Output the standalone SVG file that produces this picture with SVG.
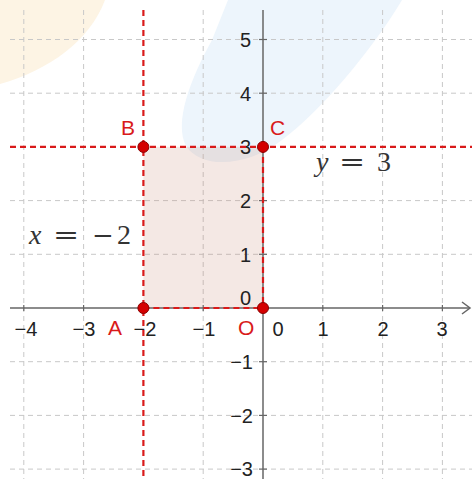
<svg xmlns="http://www.w3.org/2000/svg" width="472" height="479" viewBox="0 0 472 479">
<style>
.grid{stroke:#c8c8c8;stroke-width:1;stroke-dasharray:5 4;fill:none}
.axis{stroke:#666;stroke-width:1.5;fill:none}
.tick{stroke:#666;stroke-width:1.2}
.red{stroke:#d91a1a;stroke-width:2.2;stroke-dasharray:6 4;fill:none}
.num{font-family:"Liberation Sans",Arial,sans-serif;font-size:20px;fill:#222}
.lbl{font-family:"Liberation Sans",Arial,sans-serif;font-size:21px;fill:#d91a1a}
.math{font-family:"Liberation Serif","Times New Roman",serif;font-size:28px;fill:#333}
.op{font-family:"DejaVu Serif",serif;font-size:26px;fill:#333}
.pt{fill:#d40000;stroke:#8a0000;stroke-width:1}
</style>
<rect width="472" height="479" fill="#ffffff"/>
<path d="M0 0 L105 0 C90 40 50 70 0 84 Z" fill="#fdf4e4"/>
<path d="M228 0 L402 0 C372 50 322 110 282 140 C252 164 204 172 186 146 C174 122 190 80 212 40 Z" fill="#edf5fc"/>
<g id="grid">
<line class="grid" x1="23.8" y1="10" x2="23.8" y2="479"/>
<line class="grid" x1="83.6" y1="10" x2="83.6" y2="479"/>
<line class="grid" x1="203.2" y1="10" x2="203.2" y2="479"/>
<line class="grid" x1="322.8" y1="10" x2="322.8" y2="479"/>
<line class="grid" x1="382.6" y1="10" x2="382.6" y2="479"/>
<line class="grid" x1="442.4" y1="10" x2="442.4" y2="479"/>
<line class="grid" x1="10" y1="39.5" x2="472" y2="39.5"/>
<line class="grid" x1="10" y1="93.2" x2="472" y2="93.2"/>
<line class="grid" x1="10" y1="200.6" x2="472" y2="200.6"/>
<line class="grid" x1="10" y1="254.3" x2="472" y2="254.3"/>
<line class="grid" x1="10" y1="361.7" x2="472" y2="361.7"/>
<line class="grid" x1="10" y1="415.4" x2="472" y2="415.4"/>
<line class="grid" x1="10" y1="469.1" x2="472" y2="469.1"/>
</g>
<rect id="region" x="143.4" y="146.9" width="119.6" height="161.1" fill="#c98a7a" fill-opacity="0.2"/>
<g id="axes">
<line class="axis" x1="10" y1="308" x2="470" y2="308"/>
<path class="axis" d="M462 302 L470 308 L462 314"/>
<line class="axis" x1="263" y1="10" x2="263" y2="479"/>
<g class="tick">
<line x1="23.8" y1="305" x2="23.8" y2="311"/><line x1="83.6" y1="305" x2="83.6" y2="311"/>
<line x1="143.4" y1="305" x2="143.4" y2="311"/><line x1="203.2" y1="305" x2="203.2" y2="311"/>
<line x1="322.8" y1="305" x2="322.8" y2="311"/><line x1="382.6" y1="305" x2="382.6" y2="311"/>
<line x1="442.4" y1="305" x2="442.4" y2="311"/>
<line x1="259" y1="39.5" x2="267" y2="39.5"/><line x1="259" y1="93.2" x2="267" y2="93.2"/>
<line x1="259" y1="200.6" x2="267" y2="200.6"/><line x1="259" y1="254.3" x2="267" y2="254.3"/>
<line x1="259" y1="361.7" x2="267" y2="361.7"/><line x1="259" y1="415.4" x2="267" y2="415.4"/>
<line x1="259" y1="469.1" x2="267" y2="469.1"/>
</g>
<g class="num" text-anchor="middle">
<text x="26" y="336">−4</text><text x="84" y="336">−3</text><text x="145" y="336">−2</text>
<text x="204" y="336">−1</text><text x="278" y="336">0</text><text x="323" y="336">1</text>
<text x="383" y="336">2</text><text x="442" y="336">3</text>
</g>
<g class="num" text-anchor="end">
<text x="251" y="46.5">5</text><text x="251" y="100.5">4</text><text x="251" y="154">3</text>
<text x="251" y="208">2</text><text x="251" y="261.5">1</text><text x="251" y="305">0</text>
<text x="253" y="369">−1</text><text x="253" y="422.5">−2</text><text x="253" y="476">−3</text>
</g>
</g>
<g id="connectors">
<line class="red" x1="143.4" y1="10" x2="143.4" y2="479"/>
<line class="red" x1="10" y1="146.9" x2="472" y2="146.9"/>
<line class="red" x1="143.4" y1="308" x2="263" y2="308"/>
<line class="red" x1="263" y1="146.9" x2="263" y2="308"/>
</g>
<g id="A"><circle class="pt" cx="143.4" cy="308" r="5.5"/><text class="lbl" x="108" y="335">A</text></g>
<g id="B"><circle class="pt" cx="143.4" cy="146.9" r="5.5"/><text class="lbl" x="121" y="135">B</text></g>
<g id="C"><circle class="pt" cx="263" cy="146.9" r="5.5"/><text class="lbl" x="270" y="135">C</text></g>
<g id="O"><circle class="pt" cx="263" cy="308" r="5.5"/><text class="lbl" x="238" y="335">O</text></g>
<g id="eq-y">
<text class="math" x="316" y="171" font-style="italic">y</text>
<text class="op" transform="translate(339 171) scale(1.2 1)">=</text>
<text class="math" x="377" y="171">3</text>
</g>
<g id="eq-x">
<text class="math" x="29" y="244" font-style="italic">x</text>
<text class="op" transform="translate(53 244) scale(1.2 1)">=</text>
<text class="op" x="92" y="244">−</text>
<text class="math" x="117" y="244">2</text>
</g>
</svg>
